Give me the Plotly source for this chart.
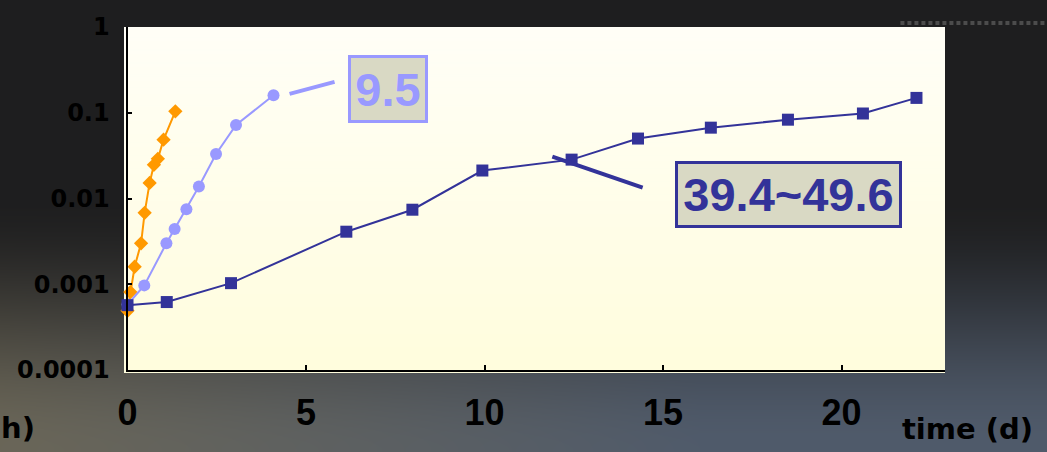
import base64
import struct
import zlib

import numpy as np
import plotly.graph_objects as go

# ---- data -------------------------------------------------------------
t_orange = [0, 0.08, 0.2, 0.38, 0.48, 0.62, 0.74, 0.85, 1.01, 1.34]
v_orange = [0.00049, 0.00081, 0.0016, 0.0030, 0.0068, 0.0152, 0.0247, 0.029, 0.0485, 0.104]

t_purple = [0, 0.47, 1.09, 1.32, 1.65, 2.0, 2.48, 3.04, 4.09]
v_purple = [0.00058, 0.00097, 0.0030, 0.0044, 0.0075, 0.0138, 0.033, 0.072, 0.16]

t_navy = [0, 1.1, 2.9, 6.13, 7.98, 9.94, 12.44, 14.3, 16.34, 18.5, 20.6, 22.1]
v_navy = [0.00057, 0.00062, 0.00103, 0.0041, 0.0074, 0.0212, 0.0284, 0.050, 0.067, 0.083, 0.098, 0.149]

# callout leader lines (time, value)
lead_purple_t = [4.54, 5.8]
lead_purple_v = [0.166, 0.229]
lead_navy_t = [11.9, 14.43]
lead_navy_v = [0.0308, 0.0134]

label_purple = "9.5"
label_navy = "39.4~49.6"

y_tickvals = [1, 0.1, 0.01, 0.001, 0.0001]
y_ticktext = ["1", "0.1", "0.01", "0.001", "0.0001"]
x_tickvals = [0, 5, 10, 15, 20]

ORANGE = "#ff9900"
PURPLE = "#9999ff"
NAVY = "#333399"

W, H = 1047, 452
PL, PR, PT, PB = 124, 945, 27, 373      # cream panel
AX_L, AX_B = 127.5, 370                 # axis origin


# ---- backdrop: dark sky fading to grey-blue, cream panel ---------------
def png_uri(arr):
    h, w, _ = arr.shape
    raw = b"".join(b"\x00" + arr[i].tobytes() for i in range(h))

    def chunk(tag, data):
        body = tag + data
        return struct.pack(">I", len(data)) + body + struct.pack(">I", zlib.crc32(body) & 0xFFFFFFFF)

    png = (b"\x89PNG\r\n\x1a\n"
           + chunk(b"IHDR", struct.pack(">IIBBBBB", w, h, 8, 2, 0, 0, 0))
           + chunk(b"IDAT", zlib.compress(raw, 9))
           + chunk(b"IEND", b""))
    return "data:image/png;base64," + base64.b64encode(png).decode()


yy, xx = np.mgrid[0:H, 0:W].astype(float)
dark = np.array([30.0, 30.0, 31.0])
left_low = np.array([106.0, 102.0, 88.0])
right_low = np.array([80.0, 91.0, 107.0])
s = np.clip(xx / 700.0, 0, 1)[..., None]
low = left_low * (1 - s) + right_low * s
t = np.clip((yy - 190.0) / 260.0, 0, 1)
t = (t * t * (3 - 2 * t))[..., None]
bg = dark * (1 - t) + low * t

cream_top = np.array([255.0, 255.0, 247.0])
cream_bot = np.array([255.0, 253.0, 221.0])
rows = np.arange(PT, PB)
f = ((rows - PT) / (PB - PT))[:, None]
cream = cream_top * (1 - f) + cream_bot * f
bg[PT:PB, PL:PR, :] = cream[:, None, :]
bg = np.clip(bg, 0, 255).astype(np.uint8)

# ---- figure ---------------------------------------------------------------
fig = go.Figure()

fig.add_trace(go.Scatter(
    x=t_orange, y=v_orange, mode="lines+markers",
    line=dict(color=ORANGE, width=2),
    marker=dict(symbol="diamond", size=11, color=ORANGE),
    cliponaxis=False, hoverinfo="x+y", showlegend=False,
))
fig.add_trace(go.Scatter(
    x=t_purple, y=v_purple, mode="lines+markers",
    line=dict(color=PURPLE, width=2),
    marker=dict(symbol="circle", size=12, color=PURPLE),
    cliponaxis=False, hoverinfo="x+y", showlegend=False,
))
fig.add_trace(go.Scatter(
    x=t_navy, y=v_navy, mode="lines+markers",
    line=dict(color=NAVY, width=2),
    marker=dict(symbol="square", size=12, color=NAVY),
    cliponaxis=False, hoverinfo="x+y", showlegend=False,
))
fig.add_trace(go.Scatter(
    x=lead_purple_t, y=lead_purple_v, mode="lines",
    line=dict(color=PURPLE, width=4), hoverinfo="skip", showlegend=False,
))
fig.add_trace(go.Scatter(
    x=lead_navy_t, y=lead_navy_v, mode="lines",
    line=dict(color=NAVY, width=4), hoverinfo="skip", showlegend=False,
))

px_per_day = 35.7
x_max = (PR - AX_L) / px_per_day

fig.update_layout(
    width=W, height=H,
    margin=dict(l=0, r=0, t=0, b=0, autoexpand=False),
    paper_bgcolor="#1e1e1f",
    plot_bgcolor="rgba(0,0,0,0)",
    images=[dict(source=png_uri(bg), xref="paper", yref="paper", x=0, y=1,
                 sizex=1, sizey=1, xanchor="left", yanchor="top",
                 sizing="stretch", layer="below")],
    xaxis=dict(
        domain=[AX_L / W, PR / W], range=[0, x_max], automargin=False,
        showgrid=False, zeroline=False,
        showline=True, linecolor="black", linewidth=2,
        ticks="inside", ticklen=5, tickwidth=1.5, tickcolor="black",
        tickvals=x_tickvals,
        tickfont=dict(family="Liberation Sans, Arial", size=36, color="black", weight="bold"),
        ticklabelstandoff=10,
    ),
    yaxis=dict(
        domain=[1 - AX_B / H, 1 - PT / H], type="log", range=[-4, 0], automargin=False,
        showgrid=False, zeroline=False,
        showline=True, linecolor="black", linewidth=2,
        ticks="inside", ticklen=4, tickwidth=1.5, tickcolor="black",
        tickvals=y_tickvals, ticktext=y_ticktext,
        tickfont=dict(family="DejaVu Sans", size=24, color="black", weight="bold"),
        ticklabelstandoff=11,
    ),
    shapes=[dict(type="line", xref="paper", yref="paper",
                 x0=0.86, x1=1.0, y0=1 - 23 / H, y1=1 - 23 / H,
                 line=dict(color="#4c4c4c", width=4, dash="4px,3px"))],
    annotations=[
        dict(text=label_purple, xref="paper", yref="paper",
             x=388 / W, y=1 - 89 / H, xanchor="center", yanchor="middle",
             showarrow=False, width=74, height=62,
             font=dict(family="Liberation Sans, Arial", size=47, color=PURPLE, weight="bold"),
             bgcolor="#d9d9c4", bordercolor=PURPLE, borderwidth=3, borderpad=0),
        dict(text=label_navy, xref="paper", yref="paper",
             x=788.5 / W, y=1 - 194.5 / H, xanchor="center", yanchor="middle",
             showarrow=False, width=221, height=61,
             font=dict(family="Liberation Sans, Arial", size=47, color=NAVY, weight="bold"),
             bgcolor="#d9d9c4", bordercolor=NAVY, borderwidth=3, borderpad=0),
        dict(text="time (d)", xref="paper", yref="paper",
             x=967 / W, y=1 - 429 / H, xanchor="center", yanchor="middle",
             showarrow=False,
             font=dict(family="DejaVu Sans", size=29, color="black", weight="bold")),
        dict(text="h)", xref="paper", yref="paper",
             x=0, y=1 - 428 / H, xanchor="left", yanchor="middle",
             showarrow=False, borderpad=0,
             font=dict(family="DejaVu Sans", size=29, color="black", weight="bold")),
    ],
)

fig.write_html("out.html")
